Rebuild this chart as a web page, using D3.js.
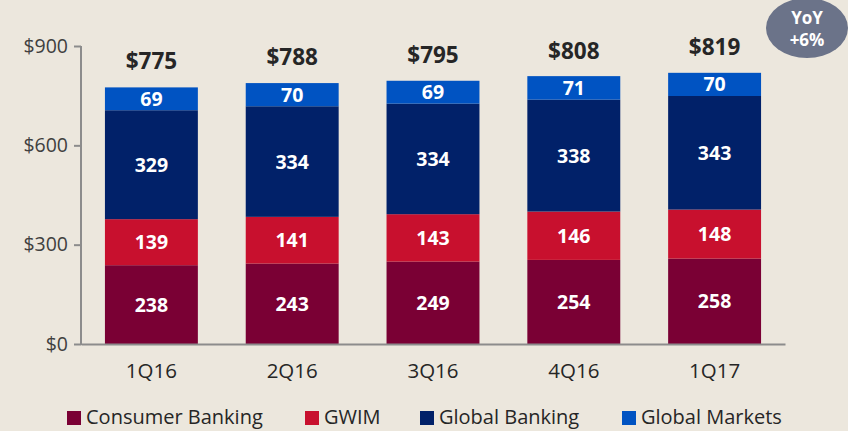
<!DOCTYPE html>
<html><head><meta charset="utf-8">
<script src="https://cdn.jsdelivr.net/npm/d3@7"></script>
<style>
html,body{margin:0;padding:0;background:#ECE7DD;}
svg{display:block;font-family:"Open Sans",Lato,sans-serif;}
</style></head>
<body><svg id="c" width="848" height="431"></svg>
<script>
const categories = ["1Q16","2Q16","3Q16","4Q16","1Q17"];
const seriesNames = ["Consumer Banking","GWIM","Global Banking","Global Markets"];
const consumerBanking = [238,243,249,254,258];
const gwim = [139,141,143,146,148];
const globalBanking = [329,334,334,338,343];
const globalMarkets = [69,70,69,71,70];
const totals = [775,788,795,808,819];
const yTicks = [0,300,600,900];
const colors = ["#7A0034","#C8102E","#012169","#0053C2"];
const badge = ["YoY","+6%"];

(function(){
const svg = d3.select("#c");
const mLeft = 81, mRight = 785, mTop = 46, mBottom = 344;
const x = d3.scaleBand().domain(categories).range([mLeft,mRight]).paddingInner(0.34).paddingOuter(0.17);
const y = d3.scaleLinear().domain([0,900]).range([mBottom,mTop]);

const rows = categories.map((c,i)=>({cat:c, "Consumer Banking":consumerBanking[i], "GWIM":gwim[i], "Global Banking":globalBanking[i], "Global Markets":globalMarkets[i]}));
const stack = d3.stack().keys(seriesNames)(rows);

const yAxis = d3.axisLeft(y).tickValues(yTicks).tickFormat(d=>"$"+d).tickSize(7).tickSizeOuter(0);
const gy = svg.append("g").attr("transform",`translate(${mLeft},0)`).call(yAxis);
gy.select(".domain").attr("stroke","#8C8C8C").attr("stroke-width",2).attr("d",`M0,${mTop}V${mBottom+1}`);
gy.selectAll(".tick line").attr("stroke","#8C8C8C").attr("stroke-width",2);
gy.selectAll(".tick text").attr("x",-13).attr("font-size",19.5).attr("fill","#404040").attr("font-family","'Open Sans',sans-serif");

stack.forEach((s,k)=>{
  const g = svg.append("g");
  g.selectAll("rect").data(s).join("rect")
    .attr("x",d=>x(d.data.cat)).attr("width",x.bandwidth())
    .attr("y",d=>y(d[1])).attr("height",d=>y(d[0])-y(d[1]))
    .attr("fill",colors[k]);
  g.selectAll("text").data(s).join("text")
    .attr("x",d=>x(d.data.cat)+x.bandwidth()/2)
    .attr("y",d=>(y(d[0])+y(d[1]))/2)
    .attr("dy","0.36em").attr("text-anchor","middle")
    .attr("font-size",19.5).attr("font-weight","bold").attr("fill","#fff")
    .text(d=>d[1]-d[0]);
});

const gx = svg.append("g").attr("transform",`translate(0,${mBottom})`).call(d3.axisBottom(x).tickSize(0).tickPadding(19));
gx.select(".domain").attr("stroke","#8C8C8C").attr("stroke-width",2);
gx.selectAll(".tick text").attr("font-size",20.5).attr("fill","#262626").attr("font-family","'Open Sans',sans-serif");

svg.append("g").selectAll("text").data(totals).join("text")
  .attr("x",(d,i)=>x(categories[i])+x.bandwidth()/2)
  .attr("y",d=>y(d)-26).attr("dy","0.36em").attr("text-anchor","middle")
  .attr("font-size",22.5).attr("font-weight","bold").attr("fill","#262626")
  .text(d=>"$"+d);

const bg = svg.append("g").attr("transform","translate(807,28)");
bg.append("ellipse").attr("rx",41).attr("ry",30).attr("fill","#6B7389");
bg.selectAll("text").data(badge).join("text")
  .attr("y",(d,i)=>i?12:-10).attr("dy","0.36em").attr("text-anchor","middle")
  .attr("font-size",17).attr("font-weight","bold").attr("fill","#fff").text(d=>d);

const legX = [67,305,420,622];
const lg = svg.append("g").selectAll("g").data(seriesNames).join("g")
  .attr("transform",(d,i)=>`translate(${legX[i]},417)`);
lg.append("rect").attr("y",-6).attr("width",14).attr("height",14).attr("fill",(d,i)=>colors[i]);
lg.append("text").attr("x",19).attr("dy","0.36em").attr("font-size",20).attr("fill","#262626").text(d=>d);
})();
</script></body></html>
